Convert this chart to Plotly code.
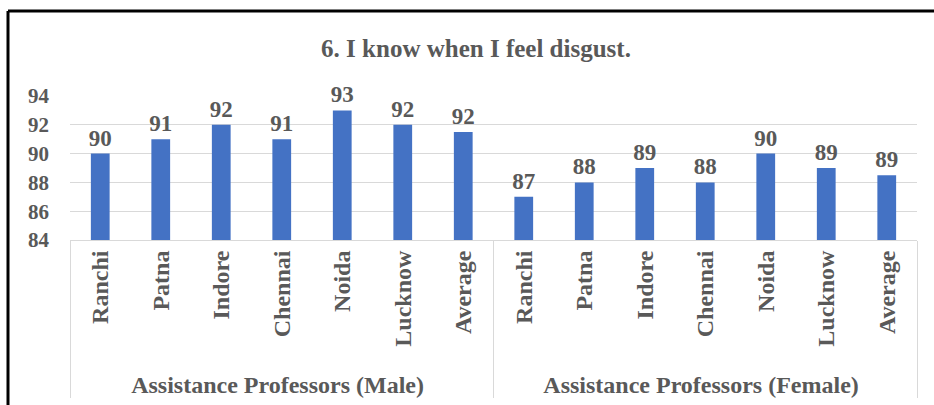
import plotly.graph_objects as go

# Chart data
groups = ['Assistance Professors (Male)', 'Assistance Professors (Female)']
cities = ['Ranchi', 'Patna', 'Indore', 'Chennai', 'Noida', 'Lucknow', 'Average']
male_scores = [90, 91, 92, 91, 93, 92, 91.5]
female_scores = [87, 88, 89, 88, 90, 89, 88.5]

COLORS = {
    'Bar': '#4472C4',
    'Text': '#595959',
    'Grid': '#D9D9D9',
}
FONT = 'Liberation Serif, Times New Roman, serif'

x_level0 = [groups[0]] * len(cities) + [groups[1]] * len(cities)
x_level1 = cities + cities
values = male_scores + female_scores

W, H = 934, 405

fig = go.Figure(go.Bar(
    x=[x_level0, x_level1],
    y=values,
    marker=dict(color=COLORS['Bar'], line=dict(width=0)),
    texttemplate='%{y:.0f}',
    textposition='outside',
    constraintext='none',
    cliponaxis=False,
    textfont=dict(family=FONT, size=23, color=COLORS['Text'], weight='bold'),
))

fig.update_layout(
    width=W,
    height=H,
    margin=dict(l=70, r=17, t=96, b=165),
    paper_bgcolor='white',
    plot_bgcolor='white',
    bargap=0.69,
    showlegend=False,
    font=dict(family=FONT, color=COLORS['Text']),
    title=dict(
        text='<b>6. I know when I feel disgust.</b>',
        x=476 / W, xanchor='center',
        y=1 - 48 / H, yanchor='middle',
        font=dict(family=FONT, size=25, color=COLORS['Text']),
    ),
    xaxis=dict(
        type='multicategory',
        automargin=False,
        tickangle=-90,
        tickfont=dict(family=FONT, size=24, color=COLORS['Text'], weight='bold'),
        showline=True, linecolor=COLORS['Grid'], linewidth=1,
        showgrid=False,
        ticks='',
        showdividers=True, dividercolor=COLORS['Grid'], dividerwidth=1,
    ),
    yaxis=dict(
        range=[84, 94],
        dtick=2,
        automargin=False,
        tickfont=dict(family=FONT, size=21, color=COLORS['Text'], weight='bold'),
        gridcolor=COLORS['Grid'], gridwidth=1,
        showline=False, zeroline=False,
        ticks='', ticklabelstandoff=20,
    ),
    shapes=[
        # left and top edges of the outer frame
        dict(type='line', xref='paper', yref='paper',
             x0=(8 - 70) / 847, x1=(8 - 70) / 847,
             y0=(240 - 420) / 144, y1=(240 - 11) / 144,
             line=dict(color='black', width=3)),
        dict(type='line', xref='paper', yref='paper',
             x0=(8 - 70) / 847, x1=(950 - 70) / 847,
             y0=(240 - 11) / 144, y1=(240 - 11) / 144,
             line=dict(color='black', width=3)),
    ],
)

# drop the default page margin so the figure fills the window exactly
fig.write_html(
    'out.html',
    config={'displayModeBar': False},
    post_script="document.body.style.margin='0';document.body.style.overflow='hidden';",
)
